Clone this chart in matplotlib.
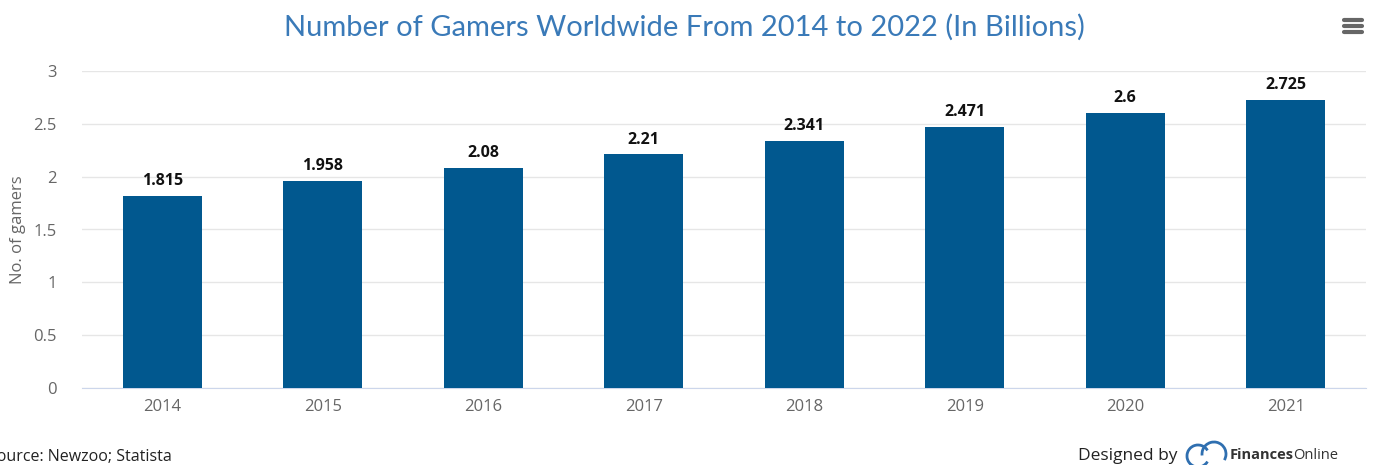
import matplotlib
matplotlib.use("Agg")
import matplotlib.pyplot as plt
from matplotlib.lines import Line2D
from matplotlib.patches import Arc

years = ["2014", "2015", "2016", "2017", "2018", "2019", "2020", "2021"]
gamers = [1.815, 1.958, 2.08, 2.21, 2.341, 2.471, 2.6, 2.725]
value_labels = ["1.815", "1.958", "2.08", "2.21", "2.341", "2.471", "2.6", "2.725"]
yticks = [0, 0.5, 1, 1.5, 2, 2.5, 3]
ytick_labels = ["0", "0.5", "1", "1.5", "2", "2.5", "3"]

W, H = 1373, 465
fig = plt.figure(figsize=(W / 100, H / 100), dpi=100)
ax = fig.add_axes([82 / W, (H - 388) / H, (1366 - 82) / W, (388 - 71) / H])

x = range(len(years))
ax.bar(x, gamers, width=0.49, color="#01588f", zorder=3)
for xi, v, lab in zip(x, gamers, value_labels):
    ax.annotate(lab, (xi, v), xytext=(0, 5), textcoords="offset points",
                ha="center", va="bottom", fontsize=11.5, fontweight="bold",
                color="#111111", family="Open Sans")

ax.set_xlim(-0.5, len(years) - 0.5)
ax.set_ylim(0, 3)
ax.set_yticks(yticks)
ax.set_yticklabels(ytick_labels, family="Open Sans", fontsize=12, color="#666666")
ax.set_xticks(list(x))
ax.set_xticklabels(years, family="Open Sans", fontsize=12, color="#666666")
ax.tick_params(axis="y", length=0, pad=18)
ax.tick_params(axis="x", length=0, pad=8)
ax.grid(axis="y", color="#e6e6e6", linewidth=1, zorder=0)
for s in ["top", "right", "left"]:
    ax.spines[s].set_visible(False)
ax.spines["bottom"].set_color("#ccd6eb")
ax.set_ylabel("No. of gamers", family="Open Sans", fontsize=12, color="#666666")
ax.yaxis.set_label_coords(-56 / (1366 - 82), 0.5)

fig.text(684 / W, 1 - 27 / H, "Number of Gamers Worldwide From 2014 to 2022 (In Billions)",
         ha="center", va="center", fontsize=21, color="#3a7ab8", family="Lato")

# menu icon
for yy in (20, 26, 32):
    fig.add_artist(Line2D([1344 / W, 1362 / W], [1 - yy / H, 1 - yy / H],
                          color="#666666", linewidth=3, solid_capstyle="round"))

fig.text(-12 / W, 1 - 457 / H, "Source: Newzoo; Statista", ha="left", va="center",
         fontsize=11.5, color="#222222", family="Open Sans")
fig.text(1078 / W, 1 - 456 / H, "Designed by", ha="left", va="center",
         fontsize=12.5, color="#222222", family="Open Sans")
fig.text(1230 / W, 1 - 455 / H, "Finances", ha="left", va="center",
         fontsize=10.5, color="#333333", family="Open Sans", fontweight="bold")
fig.text(1293 / W, 1 - 455 / H, "Online", ha="left", va="center",
         fontsize=10.5, color="#333333", family="Open Sans")
# cloud logo
fig.add_artist(Arc((1198 / W, 1 - 456 / H), 22 / W, 22 / H, theta1=60, theta2=300,
                   color="#2f6fb0", linewidth=2))
fig.add_artist(Arc((1214 / W, 1 - 454 / H), 24 / W, 24 / H, theta1=-60, theta2=200,
                   color="#2f6fb0", linewidth=2))

fig.savefig("out.png", dpi=100)
